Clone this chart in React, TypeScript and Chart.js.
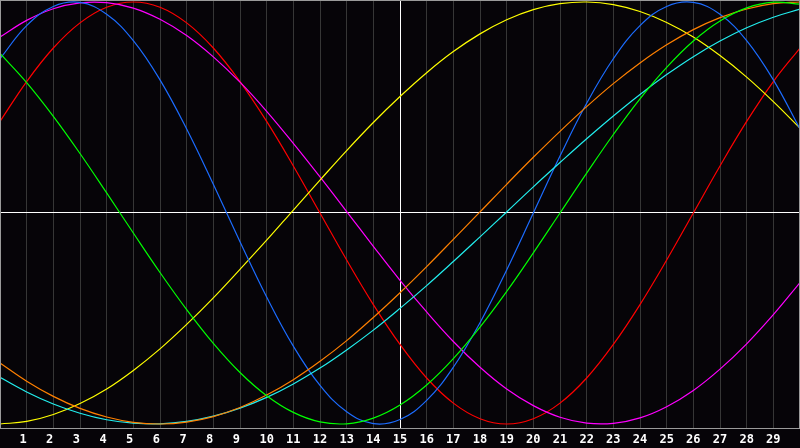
import React, { useEffect, useRef } from "react";
import { Chart, registerables, ChartConfiguration, Plugin } from "chart.js";

Chart.register(...registerables);

// day positions on the x axis (0..30) and the labels shown under the grid lines
const days = [
  0, 1, 2, 3, 4, 5, 6, 7, 8, 9, 10, 11, 12, 13, 14, 15, 16, 17, 18, 19, 20,
  21, 22, 23, 24, 25, 26, 27, 28, 29, 30,
];
const tickDays = [
  1, 2, 3, 4, 5, 6, 7, 8, 9, 10, 11, 12, 13, 14, 15, 16, 17, 18, 19, 20, 21,
  22, 23, 24, 25, 26, 27, 28, 29,
];
const tickLabels = [
  "1", "2", "3", "4", "5", "6", "7", "8", "9", "10", "11", "12", "13", "14",
  "15", "16", "17", "18", "19", "20", "21", "22", "23", "24", "25", "26", "27",
  "28", "29",
];
const todayTick = 15;

// values, one per day
const physical = [
  0.731, 0.888, 0.979, 0.998, 0.942, 0.817, 0.631, 0.398, 0.136, -0.136,
  -0.398, -0.631, -0.817, -0.942, -0.998, -0.979, -0.888, -0.731, -0.52,
  -0.27, 0, 0.27, 0.52, 0.731, 0.888, 0.979, 0.998, 0.942, 0.817, 0.631, 0.398,
];
const emotional = [
  0.434, 0.623, 0.782, 0.901, 0.975, 1.0, 0.975, 0.901, 0.782, 0.623, 0.434,
  0.223, 0, -0.223, -0.434, -0.623, -0.782, -0.901, -0.975, -1.0, -0.975,
  -0.901, -0.782, -0.623, -0.434, -0.223, 0, 0.223, 0.434, 0.623, 0.782,
];
const intellectual = [
  0.756, 0.618, 0.458, 0.282, 0.095, -0.095, -0.282, -0.458, -0.618, -0.756,
  -0.866, -0.945, -0.99, -0.999, -0.972, -0.91, -0.815, -0.69, -0.541, -0.372,
  -0.189, 0, 0.189, 0.372, 0.541, 0.69, 0.815, 0.91, 0.972, 0.999, 0.99,
];
const intuition = [
  0.834, 0.913, 0.968, 0.996, 0.997, 0.971, 0.918, 0.841, 0.74, 0.62, 0.482,
  0.33, 0.171, 0.007, -0.158, -0.319, -0.469, -0.609, -0.731, -0.834, -0.913,
  -0.968, -0.996, -0.997, -0.971, -0.918, -0.841, -0.74, -0.62, -0.482, -0.33,
];
const aesthetic = [
  -1.0, -0.988, -0.955, -0.903, -0.834, -0.746, -0.644, -0.528, -0.402,
  -0.267, -0.129, 0.014, 0.156, 0.296, 0.429, 0.552, 0.665, 0.765, 0.849,
  0.916, 0.964, 0.992, 1.0, 0.988, 0.955, 0.903, 0.834, 0.746, 0.644, 0.528,
  0.402,
];
const awareness = [
  -0.711, -0.797, -0.869, -0.926, -0.967, -0.992, -1.0, -0.991, -0.965,
  -0.922, -0.863, -0.79, -0.703, -0.605, -0.495, -0.378, -0.254, -0.125, 0.005,
  0.136, 0.264, 0.387, 0.504, 0.613, 0.711, 0.797, 0.869, 0.926, 0.967, 0.992,
  1.0,
];
const spiritual = [
  -0.779, -0.848, -0.905, -0.949, -0.98, -0.996, -0.999, -0.988, -0.963,
  -0.925, -0.874, -0.81, -0.735, -0.649, -0.555, -0.452, -0.344, -0.23, -0.113,
  0.005, 0.124, 0.239, 0.352, 0.46, 0.562, 0.656, 0.741, 0.815, 0.878, 0.928,
  0.966,
];

const toPoints = (values: number[]) =>
  days.map((d, i) => ({ x: d, y: values[i] }));

const framePlugin: Plugin<"line"> = {
  id: "frame",
  afterDraw(chart) {
    const { ctx, chartArea } = chart;
    ctx.save();
    ctx.strokeStyle = "#9a9a9a";
    ctx.lineWidth = 1;
    ctx.strokeRect(
      chartArea.left + 0.5,
      chartArea.top + 0.5,
      chartArea.right - chartArea.left - 1,
      chartArea.bottom - chartArea.top
    );
    ctx.restore();
  },
};

const BiorhythmChart: React.FC = () => {
  const chartRef = useRef<HTMLCanvasElement>(null);
  const chartInstanceRef = useRef<Chart | null>(null);

  useEffect(() => {
    if (!chartRef.current) return;

    const line = (label: string, values: number[], color: string) => ({
      label,
      data: toPoints(values),
      borderColor: color,
      backgroundColor: color,
      borderWidth: 1.2,
      pointRadius: 0,
      tension: 0.4,
      fill: false,
    });

    const config: ChartConfiguration<"line"> = {
      type: "line",
      data: {
        datasets: [
          line("Intellectual", intellectual, "#00ff00"),
          line("Awareness", awareness, "#ff8000"),
          line("Spiritual", spiritual, "#22eeee"),
          line("Physical", physical, "#1c6cff"),
          line("Aesthetic", aesthetic, "#ffff00"),
          line("Intuition", intuition, "#ff00ff"),
          line("Emotional", emotional, "#ff0000"),
        ] as any,
      },
      options: {
        animation: false,
        responsive: true,
        maintainAspectRatio: false,
        layout: { padding: 0 },
        plugins: {
          legend: { display: false },
          tooltip: { enabled: false },
        },
        scales: {
          x: {
            type: "linear",
            position: "bottom",
            min: 0,
            max: 30,
            afterBuildTicks: (scale) => {
              scale.ticks = tickDays.map((v) => ({ value: v }));
            },
            afterFit: (scale) => {
              scale.height = 20;
            },
            ticks: {
              autoSkip: false,
              maxRotation: 0,
              color: "#ffffff",
              padding: 5,
              font: { family: "DejaVu Sans Mono", weight: "bold", size: 12 },
              callback: (value) => {
                const label = tickLabels[tickDays.indexOf(Number(value))];
                // single digits sit left of their grid line
                return label ? label.padEnd(2, " ") : "";
              },
            },
            grid: {
              drawTicks: false,
              lineWidth: 1,
              color: (ctx) =>
                ctx.tick && ctx.tick.value === todayTick ? "#ffffff" : "#363636",
            },
            border: { display: false },
          },
          y: {
            type: "linear",
            min: -1.019,
            max: 1.0095,
            afterBuildTicks: (scale) => {
              scale.ticks = [{ value: 0 }];
            },
            afterFit: (scale) => {
              scale.width = 0;
            },
            ticks: { display: false },
            grid: {
              drawTicks: false,
              lineWidth: 1,
              color: (ctx) =>
                ctx.tick && ctx.tick.value === 0 ? "#ffffff" : "rgba(0,0,0,0)",
            },
            border: { display: false },
          },
        },
      },
      plugins: [framePlugin],
    };

    if (chartInstanceRef.current) {
      chartInstanceRef.current.destroy();
    }
    const ctx = chartRef.current.getContext("2d");
    if (ctx) {
      chartInstanceRef.current = new Chart(ctx, config);
    }

    return () => {
      if (chartInstanceRef.current) {
        chartInstanceRef.current.destroy();
        chartInstanceRef.current = null;
      }
    };
  }, []);

  return (
    <div
      style={{
        position: "fixed",
        left: 0,
        top: 0,
        width: 800,
        height: 448,
        background: "#060408",
      }}
    >
      <canvas ref={chartRef}></canvas>
    </div>
  );
};

export default function App() {
  return <BiorhythmChart />;
}
